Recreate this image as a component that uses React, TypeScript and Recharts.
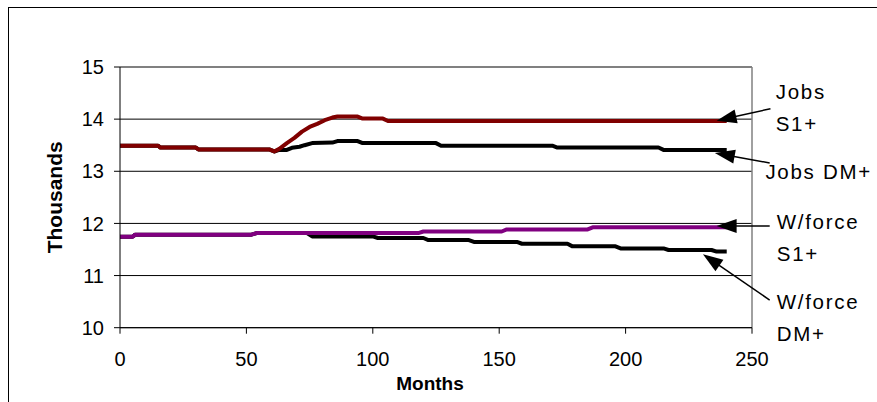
import React from 'react';
import {
  LineChart,
  Line,
  XAxis,
  YAxis,
  CartesianGrid,
  ReferenceLine,
  ReferenceDot,
  Label,
} from 'recharts';

const FONT = '"Liberation Sans", Arial, sans-serif';

// Axis ticks
const monthTicks = [0, 50, 100, 150, 200, 250];
const thousandTicks = [10, 11, 12, 13, 14, 15];

// Jobs, scenario S1+
const jobsS1Months = [0, 15, 16, 30, 31, 59, 61, 63, 66, 69, 72, 75, 78, 81, 84, 86, 94, 96, 104, 106, 240];
const jobsS1Values = [13.49, 13.49, 13.455, 13.455, 13.42, 13.42, 13.38, 13.43, 13.54, 13.64, 13.76, 13.85, 13.91, 13.98, 14.03, 14.05, 14.05, 14.01, 14.01, 13.965, 13.965];

// Jobs, scenario DM+
const jobsDmMonths = [0, 15, 16, 30, 31, 59, 61, 63, 66, 68, 71, 73, 76, 84, 86, 94, 96, 125, 127, 171, 173, 213, 215, 240];
const jobsDmValues = [13.49, 13.49, 13.455, 13.455, 13.42, 13.42, 13.38, 13.41, 13.41, 13.45, 13.47, 13.5, 13.54, 13.55, 13.58, 13.58, 13.54, 13.54, 13.49, 13.49, 13.455, 13.455, 13.41, 13.41];

// Workforce, scenario S1+
const forceS1Months = [0, 5, 6, 52, 54, 118, 120, 151, 153, 185, 187, 240];
const forceS1Values = [11.745, 11.745, 11.785, 11.785, 11.815, 11.815, 11.845, 11.845, 11.885, 11.885, 11.925, 11.925];

// Workforce, scenario DM+
const forceDmMonths = [0, 5, 6, 52, 54, 74, 76, 100, 102, 120, 122, 138, 140, 157, 159, 177, 179, 196, 198, 215, 217, 234, 236, 240];
const forceDmValues = [11.745, 11.745, 11.785, 11.785, 11.815, 11.815, 11.75, 11.75, 11.72, 11.72, 11.68, 11.68, 11.645, 11.645, 11.61, 11.61, 11.56, 11.56, 11.52, 11.52, 11.49, 11.49, 11.46, 11.46];

const toSeries = (months: number[], values: number[]) =>
  months.map((m, i) => ({ month: m, value: values[i] }));

const jobsS1 = toSeries(jobsS1Months, jobsS1Values);
const jobsDm = toSeries(jobsDmMonths, jobsDmValues);
const forceS1 = toSeries(forceS1Months, forceS1Values);
const forceDm = toSeries(forceDmMonths, forceDmValues);

// Callout arrows: tail point then tip point, in (month, thousands)
const arrows = [
  { tail: { x: 257.3, y: 14.2 }, tip: { x: 236, y: 13.97 } },
  { tail: { x: 257, y: 13.16 }, tip: { x: 235.3, y: 13.35 } },
  { tail: { x: 257, y: 11.95 }, tip: { x: 236, y: 11.95 } },
  { tail: { x: 257, y: 10.53 }, tip: { x: 230.6, y: 11.41 } },
];

// Callout texts: anchor is the left end of the first baseline
const notes = [
  { x: 259.4, y: 14.39, lines: ['Jobs', 'S1+'] },
  { x: 255.3, y: 12.854, lines: ['Jobs DM+'] },
  { x: 259.8, y: 11.894, lines: ['W/force', 'S1+'] },
  { x: 259.8, y: 10.359, lines: ['W/force', 'DM+'] },
];

const ArrowShape = (props: any) => {
  const { x1, y1, x2, y2 } = props;
  if ([x1, y1, x2, y2].some((v) => typeof v !== 'number' || Number.isNaN(v))) return null;
  const dx = x2 - x1;
  const dy = y2 - y1;
  const len = Math.hypot(dx, dy) || 1;
  const ux = dx / len;
  const uy = dy / len;
  const headLen = 20;
  const headHalf = 7;
  const bx = x2 - ux * headLen;
  const by = y2 - uy * headLen;
  const px = -uy * headHalf;
  const py = ux * headHalf;
  return (
    <g>
      <line x1={x1} y1={y1} x2={bx + ux * 2} y2={by + uy * 2} stroke="#000" strokeWidth={1.5} />
      <polygon points={`${x2},${y2} ${bx + px},${by + py} ${bx - px},${by - py}`} fill="#000" />
    </g>
  );
};

const makeNote = (lines: string[]) => (props: any) => {
  const { cx, cy } = props;
  if (typeof cx !== 'number' || typeof cy !== 'number') return null;
  return (
    <text x={cx} y={cy} fontFamily={FONT} fontSize={20.5} letterSpacing={1.7} fill="#000">
      {lines.map((l, i) => (
        <tspan key={i} x={cx} dy={i === 0 ? 0 : 32}>
          {l}
        </tspan>
      ))}
    </text>
  );
};

const MonthsTitle = (props: any) => {
  const vb = props.viewBox || {};
  return (
    <text
      x={vb.x + vb.width / 2 - 6}
      y={vb.y + 62.3}
      textAnchor="middle"
      fontFamily={FONT}
      fontWeight="bold"
      fontSize={19}
      fill="#000"
    >
      Months
    </text>
  );
};

const ThousandsTitle = (props: any) => {
  const vb = props.viewBox || {};
  const x = vb.x + 52.7;
  const y = vb.y + vb.height / 2;
  return (
    <text
      x={x}
      y={y}
      transform={`rotate(-90 ${x} ${y})`}
      textAnchor="middle"
      fontFamily={FONT}
      fontWeight="bold"
      fontSize={21}
      fill="#000"
    >
      Thousands
    </text>
  );
};

export default function App() {
  return (
    <div
      style={{
        position: 'absolute',
        left: 8,
        top: 7,
        width: 880,
        height: 400,
        borderLeft: '1px solid #000',
        borderTop: '1px solid #000',
        background: '#fff',
      }}
    >
      <LineChart
        width={880}
        height={394}
        margin={{ top: 59, right: 137, left: 0, bottom: 0 }}
        style={{ overflow: 'visible' }}
      >
        <CartesianGrid vertical={false} stroke="#000" strokeWidth={1} />
        <XAxis
          dataKey="month"
          type="number"
          domain={[0, 250]}
          ticks={monthTicks}
          allowDataOverflow
          height={74.3}
          tickSize={6}
          tickMargin={18}
          stroke="#000"
          tick={{ fontFamily: FONT, fontSize: 20, fill: '#000' }}
        >
          <Label content={MonthsTitle} />
        </XAxis>
        <YAxis
          type="number"
          domain={[10, 15]}
          ticks={thousandTicks}
          allowDataOverflow
          width={111}
          tickSize={6}
          tickMargin={10}
          stroke="#000"
          tick={{ fontFamily: FONT, fontSize: 20, fill: '#000' }}
        >
          <Label content={ThousandsTitle} />
        </YAxis>
        <ReferenceLine y={15} stroke="#808080" strokeWidth={1.5} />
        <ReferenceLine x={250} stroke="#808080" strokeWidth={1.5} />

        <Line data={jobsDm} dataKey="value" name="Jobs DM+" type="linear" stroke="#000000" strokeWidth={4} dot={false} strokeLinejoin="round" isAnimationActive={false} />
        <Line data={jobsS1} dataKey="value" name="Jobs S1+" type="linear" stroke="#800000" strokeWidth={4} dot={false} strokeLinejoin="round" isAnimationActive={false} />
        <Line data={forceDm} dataKey="value" name="W/force DM+" type="linear" stroke="#000000" strokeWidth={4} dot={false} strokeLinejoin="round" isAnimationActive={false} />
        <Line data={forceS1} dataKey="value" name="W/force S1+" type="linear" stroke="#800080" strokeWidth={4} dot={false} strokeLinejoin="round" isAnimationActive={false} />

        {arrows.map((a, i) => (
          <ReferenceLine key={`arrow-${i}`} segment={[a.tail, a.tip]} ifOverflow="visible" shape={ArrowShape} />
        ))}
        {notes.map((n, i) => (
          <ReferenceDot key={`note-${i}`} x={n.x} y={n.y} r={0} ifOverflow="visible" shape={makeNote(n.lines)} />
        ))}
      </LineChart>
    </div>
  );
}
